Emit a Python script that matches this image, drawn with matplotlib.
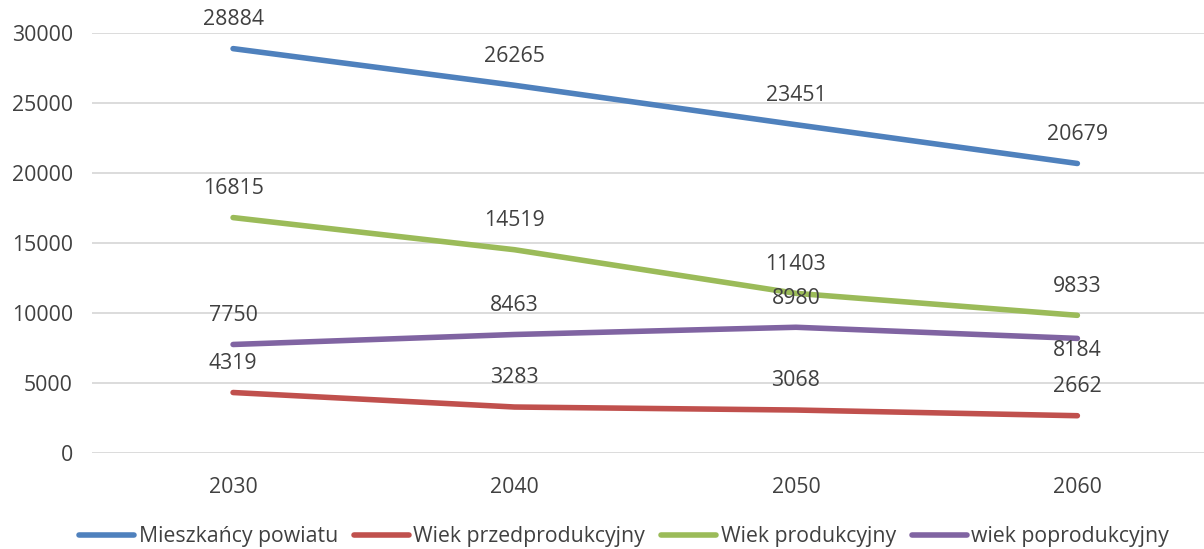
import matplotlib
matplotlib.use('Agg')
import matplotlib.pyplot as plt

years = ['2030', '2040', '2050', '2060']
mieszkancy = [28884, 26265, 23451, 20679]
przedprodukcyjny = [4319, 3283, 3068, 2662]
produkcyjny = [16815, 14519, 11403, 9833]
poprodukcyjny = [7750, 8463, 8980, 8184]

series = [
    ('Mieszkańcy powiatu', mieszkancy, '#4F81BD'),
    ('Wiek przedprodukcyjny', przedprodukcyjny, '#C0504D'),
    ('Wiek produkcyjny', produkcyjny, '#9BBB59'),
    ('wiek poprodukcyjny', poprodukcyjny, '#8064A2'),
]

plt.rcParams['font.family'] = ['Open Sans', 'DejaVu Sans']
txt = '#404040'
fs = 15.3

fig = plt.figure(figsize=(12.04, 5.49), dpi=100)
ax = fig.add_axes([0.0767, 0.1749, 0.935, 0.765])

x = list(range(len(years)))
for name, vals, col in series:
    ax.plot(x, vals, color=col, lw=4, solid_capstyle='round', label=name, zorder=3)
    for i, v in enumerate(vals):
        # the last purple label sits below its point
        below = (name == 'wiek poprodukcyjny' and i == len(vals) - 1)
        ax.annotate(str(v), (i, v), xytext=(0, -9 if below else 21),
                    textcoords='offset points', ha='center', va='center',
                    fontsize=fs, color=txt, zorder=4)

ax.set_xlim(-0.5, len(years) - 0.5)
ax.set_ylim(0, 30000)
ax.set_yticks(range(0, 30001, 5000))
ax.set_xticks(x)
ax.set_xticklabels(years)
ax.grid(axis='y', color='#D9D9D9', lw=1.3)
ax.set_axisbelow(True)
for s in ax.spines.values():
    s.set_visible(False)
ax.tick_params(axis='both', length=0, labelsize=fs, labelcolor=txt)
ax.tick_params(axis='y', pad=14)
ax.tick_params(axis='x', pad=17)

fig.legend(loc='center', bbox_to_anchor=(624 / 1204, 0.022), ncol=4, frameon=False,
           fontsize=fs, labelcolor=txt, handlelength=2.6, handletextpad=0.2,
           columnspacing=0.75)

fig.savefig('out.png', dpi=100)
